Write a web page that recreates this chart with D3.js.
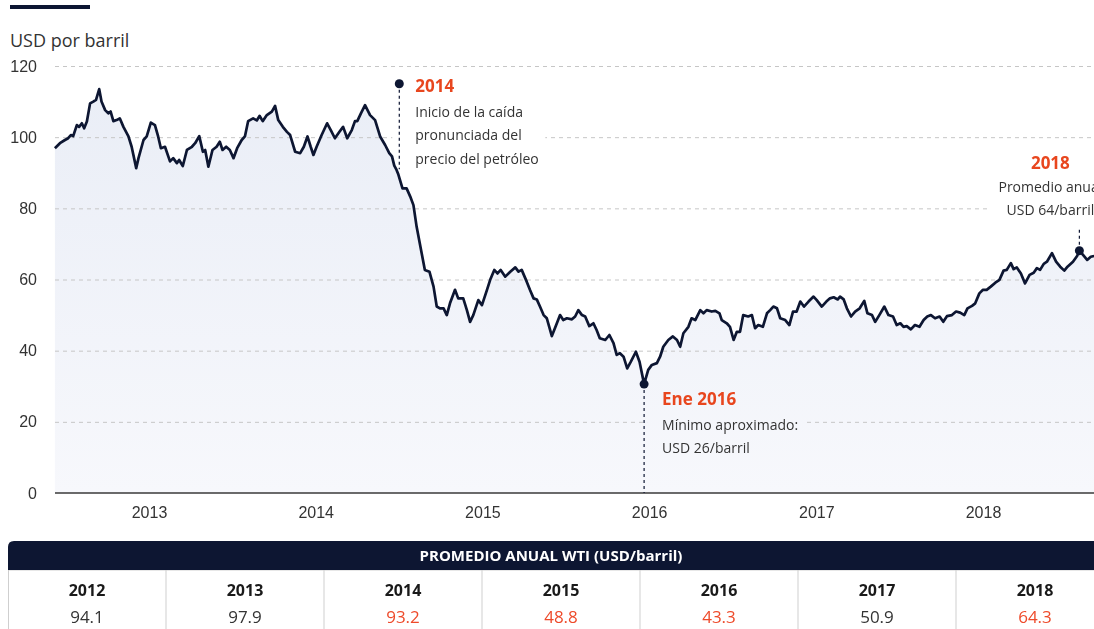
<!DOCTYPE html>
<html lang="es">
<head>
<meta charset="utf-8">
<script src="https://cdn.jsdelivr.net/npm/d3@7"></script>
<style>
  html, body { margin: 0; padding: 0; background: #fff; }
  body { width: 1094px; height: 629px; overflow: hidden; }
  svg { display: block; font-family: "Open Sans", "Noto Sans", sans-serif; }
</style>
</head>
<body>
<div id="chart"></div>
<script>
// WTI price, USD per barrel
const dates = [
  "2012-06-09","2012-06-20","2012-07-01","2012-07-08","2012-07-14","2012-07-19","2012-07-27","2012-08-01","2012-08-07","2012-08-12",
  "2012-08-18","2012-08-25","2012-09-01","2012-09-07","2012-09-14","2012-09-19","2012-09-27","2012-10-04","2012-10-09","2012-10-15",
  "2012-10-22","2012-10-29","2012-11-06","2012-11-17","2012-11-24","2012-12-04","2012-12-09","2012-12-20","2012-12-27","2013-01-05",
  "2013-01-14","2013-01-21","2013-01-27","2013-02-05","2013-02-16","2013-02-23","2013-03-03","2013-03-08","2013-03-16","2013-03-25",
  "2013-04-05","2013-04-12","2013-04-21","2013-04-29","2013-05-04","2013-05-11","2013-05-20","2013-05-29","2013-06-05","2013-06-11",
  "2013-06-19","2013-06-27","2013-07-05","2013-07-13","2013-07-23","2013-07-30","2013-08-06","2013-08-17","2013-08-25","2013-08-31",
  "2013-09-07","2013-09-16","2013-09-27","2013-10-04","2013-10-11","2013-10-21","2013-10-30","2013-11-06","2013-11-17","2013-11-28",
  "2013-12-06","2013-12-14","2013-12-21","2013-12-27","2014-01-03","2014-01-14","2014-01-26","2014-02-03","2014-02-12","2014-02-22",
  "2014-03-02","2014-03-11","2014-03-21","2014-03-28","2014-04-02","2014-04-10","2014-04-19","2014-04-30","2014-05-11","2014-05-22",
  "2014-06-02","2014-06-11","2014-06-17","2014-06-22","2014-06-27","2014-07-01","2014-07-10","2014-07-19","2014-07-27","2014-08-03",
  "2014-08-10","2014-08-21","2014-08-28","2014-09-07","2014-09-16","2014-09-23","2014-09-30","2014-10-08","2014-10-15","2014-10-22",
  "2014-11-02","2014-11-09","2014-11-20","2014-11-28","2014-12-05","2014-12-12","2014-12-23","2014-12-31","2015-01-11","2015-01-18",
  "2015-01-27","2015-02-03","2015-02-10","2015-02-20","2015-03-03","2015-03-14","2015-03-21","2015-03-28","2015-04-08","2015-04-15",
  "2015-04-23","2015-04-30","2015-05-07","2015-05-15","2015-05-22","2015-06-02","2015-06-13","2015-06-20","2015-06-27","2015-07-05",
  "2015-07-16","2015-07-23","2015-07-30","2015-08-07","2015-08-14","2015-08-23","2015-09-01","2015-09-08","2015-09-15","2015-09-27",
  "2015-10-06","2015-10-15","2015-10-22","2015-10-29","2015-11-06","2015-11-14","2015-11-22","2015-12-03","2015-12-11","2015-12-21",
  "2015-12-30","2016-01-07","2016-01-18","2016-01-25","2016-02-01","2016-02-12","2016-02-22","2016-03-02","2016-03-09","2016-03-16",
  "2016-03-27","2016-04-03","2016-04-11","2016-04-22","2016-04-29","2016-05-06","2016-05-17","2016-05-25","2016-06-03","2016-06-08",
  "2016-06-19","2016-06-26","2016-07-04","2016-07-11","2016-07-18","2016-07-25","2016-08-05","2016-08-13","2016-08-20","2016-08-27",
  "2016-09-06","2016-09-15","2016-09-22","2016-09-29","2016-10-07","2016-10-14","2016-10-25","2016-11-03","2016-11-11","2016-11-19",
  "2016-11-27","2016-12-05","2016-12-15","2016-12-26","2017-01-02","2017-01-13","2017-01-23","2017-01-31","2017-02-08","2017-02-17",
  "2017-02-22","2017-03-02","2017-03-09","2017-03-18","2017-03-27","2017-04-06","2017-04-16","2017-04-23","2017-05-03","2017-05-10",
  "2017-05-19","2017-05-30","2017-06-08","2017-06-18","2017-06-26","2017-07-04","2017-07-11","2017-07-18","2017-07-27","2017-08-05",
  "2017-08-15","2017-08-24","2017-09-01","2017-09-09","2017-09-18","2017-09-28","2017-10-06","2017-10-14","2017-10-25","2017-11-03",
  "2017-11-12","2017-11-21","2017-11-28","2017-12-08","2017-12-15","2017-12-24","2018-01-01","2018-01-09","2018-01-18","2018-01-28",
  "2018-02-06","2018-02-15","2018-02-22","2018-03-03","2018-03-09","2018-03-16","2018-03-25","2018-04-03","2018-04-13","2018-04-22",
  "2018-04-29","2018-05-06","2018-05-14","2018-05-21","2018-06-01","2018-06-10","2018-06-19","2018-06-28","2018-07-05","2018-07-17",
  "2018-07-26","2018-07-31","2018-08-08","2018-08-17","2018-08-25","2018-09-01","2018-09-10"
];
const prices = [
  96.9, 98.3, 99.2, 99.7, 100.6, 100.3, 103.4, 102.9, 103.9, 102.5,
  104.4, 109.5, 110.0, 110.5, 113.5, 110.0, 107.6, 106.7, 107.2, 104.5,
  104.8, 105.3, 102.9, 100.2, 97.3, 91.3, 94.1, 99.2, 100.2, 104.1,
  103.4, 100.2, 96.9, 97.3, 93.2, 94.1, 92.7, 93.6, 91.9, 96.4,
  97.3, 98.3, 100.3, 95.9, 96.4, 91.7, 96.4, 97.3, 98.7, 96.4,
  97.3, 96.4, 94.1, 96.9, 99.2, 100.2, 104.5, 105.3, 104.7, 106.0,
  104.5, 106.2, 107.2, 108.8, 104.8, 102.9, 101.5, 100.6, 95.9, 95.5,
  97.3, 100.2, 97.3, 95.0, 97.3, 100.6, 103.9, 102.0, 99.7, 101.5,
  102.9, 99.7, 102.0, 104.5, 104.5, 106.7, 109.0, 106.2, 104.8, 100.2,
  97.8, 95.5, 94.6, 92.0, 90.8, 89.5, 85.6, 85.6, 83.3, 80.9,
  74.8, 67.4, 62.7, 62.2, 58.0, 52.4, 51.9, 51.9, 50.0, 53.3,
  57.1, 54.7, 54.7, 51.4, 48.1, 50.0, 54.2, 52.8, 57.1, 59.9,
  62.7, 61.7, 62.7, 60.8, 62.2, 63.4, 62.2, 62.7, 59.4, 57.1,
  54.7, 54.4, 52.4, 50.0, 49.1, 44.1, 47.7, 50.0, 48.6, 49.1,
  48.8, 49.6, 51.4, 50.0, 49.6, 46.9, 47.7, 45.8, 43.5, 43.0,
  44.4, 42.1, 38.8, 39.3, 38.3, 35.0, 36.9, 39.7, 36.9, 30.6,
  34.6, 36.0, 36.5, 38.3, 41.1, 43.0, 44.0, 43.0, 41.1, 44.9,
  46.7, 49.1, 48.6, 51.4, 50.5, 51.4, 51.0, 51.2, 50.5, 48.6,
  47.7, 46.7, 43.0, 45.3, 45.3, 50.0, 49.6, 50.0, 46.3, 47.2,
  46.7, 50.5, 51.4, 52.4, 51.9, 49.1, 48.6, 47.2, 51.0, 51.0,
  53.8, 52.4, 53.8, 55.2, 54.2, 52.4, 53.8, 54.7, 55.0, 54.4,
  55.2, 54.4, 51.9, 49.6, 51.0, 51.9, 54.0, 50.5, 50.0, 48.1,
  50.0, 52.4, 50.0, 49.6, 47.2, 47.7, 46.7, 46.9, 46.0, 47.2,
  46.7, 48.6, 49.6, 50.0, 49.1, 49.6, 48.1, 49.7, 50.0, 51.0,
  50.7, 50.0, 51.9, 52.6, 53.3, 56.1, 57.1, 57.1, 58.0, 59.1,
  59.9, 62.5, 62.7, 64.6, 62.9, 63.4, 61.7, 58.9, 61.3, 61.9,
  63.2, 62.7, 64.4, 65.0, 67.4, 65.0, 63.6, 62.5, 63.6, 65.0,
  66.6, 68.1, 66.9, 65.5, 66.4, 66.6, 67.0
];

const yTicks = [0, 20, 40, 60, 80, 100, 120];
const xTickYears = [2013, 2014, 2015, 2016, 2017, 2018];

const tableYears = ["2012", "2013", "2014", "2015", "2016", "2017", "2018"];
const tableAvg = [94.1, 97.9, 93.2, 48.8, 43.3, 50.9, 64.3];
const redYears = ["2014", "2015", "2016", "2018"];

const notePeak = { date: "2014-07-03", value: 115, end: 91, title: "2014",
  lines: ["Inicio de la caída", "pronunciada del", "precio del petróleo"] };
const noteMin = { date: "2015-12-21", value: 30.6, title: "Ene 2016",
  lines: ["Mínimo aproximado:", "USD 26/barril"] };
const note2018 = { date: "2018-07-31", value: 68.1, title: "2018",
  lines: ["Promedio anual", "USD 64/barril"] };

const W = 1094, H = 629;
const NAVY = "#0d1632", RED = "#e8461e", TEXT = "#333";
const parse = d3.timeParse("%Y-%m-%d");
const data = dates.map((d, i) => ({ date: parse(d), value: prices[i] }));

const plotLeft = 55;
const x = d3.scaleTime()
  .domain([new Date(2013, 0, 1), new Date(2018, 0, 1)])
  .range([149, 983]);
const y = d3.scaleLinear().domain([0, 120]).range([493, 66]);

const svg = d3.select("#chart").append("svg")
  .attr("width", W)
  .attr("height", H);
const defs = svg.append("defs");

const grad = defs.append("linearGradient")
  .attr("id", "areaFill")
  .attr("gradientUnits", "userSpaceOnUse")
  .attr("x1", 0).attr("x2", 0)
  .attr("y1", y(120)).attr("y2", y(0));
grad.append("stop").attr("offset", 0).attr("stop-color", "#e9edf6");
grad.append("stop").attr("offset", 1).attr("stop-color", "#f7f8fc");

// anchor points of the notes
const pk = { x: x(parse(notePeak.date)), y: y(notePeak.value) };
const mn = { x: x(parse(noteMin.date)), y: y(noteMin.value) };
const n18 = { x: x(parse(note2018.date)), y: y(note2018.value) };

// gridlines are hidden behind the note texts
const mask = defs.append("mask")
  .attr("id", "gridMask")
  .attr("maskUnits", "userSpaceOnUse")
  .attr("x", 0).attr("y", 0).attr("width", W).attr("height", H);
mask.append("rect").attr("width", W).attr("height", H).attr("fill", "#fff");
[
  [pk.x - 7, pk.y - 12, 153, 100],
  [mn.x + 3, mn.y + 4, 158, 74],
  [n18.x - 91, n18.y - 100, 140, 72]
].forEach(b => mask.append("rect")
  .attr("x", b[0]).attr("y", b[1]).attr("width", b[2]).attr("height", b[3])
  .attr("fill", "#000"));

// top accent bar + unit label
svg.append("rect")
  .attr("x", 10).attr("y", 5).attr("width", 80).attr("height", 4)
  .attr("fill", NAVY);
svg.append("text")
  .attr("x", 10).attr("y", 47)
  .attr("font-size", 18)
  .attr("fill", TEXT)
  .text("USD por barril");

// area under the line
const area = d3.area()
  .x(d => x(d.date))
  .y0(y(0))
  .y1(d => y(d.value));
svg.append("path")
  .datum(data)
  .attr("d", area)
  .attr("fill", "url(#areaFill)");

// gridlines (mask on an untransformed parent so its boxes are in page coords)
const grid = svg.append("g")
  .attr("mask", "url(#gridMask)")
  .append("g")
  .attr("transform", `translate(${plotLeft},0)`)
  .call(d3.axisLeft(y).tickValues(yTicks.filter(v => v > 0)).tickSize(-(W - plotLeft)).tickFormat(""));
grid.select(".domain").remove();
grid.selectAll("line")
  .attr("stroke", "#c6c6c6")
  .attr("stroke-dasharray", "4,4");

// y labels
const yAxis = svg.append("g")
  .attr("transform", "translate(37,0)")
  .call(d3.axisLeft(y).tickValues(yTicks).tickSize(0).tickPadding(0));
yAxis.select(".domain").remove();
yAxis.selectAll("text")
  .attr("font-family", null)
  .attr("font-size", 16)
  .attr("fill", TEXT);

// x axis
svg.append("line")
  .attr("x1", plotLeft).attr("x2", W)
  .attr("y1", y(0)).attr("y2", y(0))
  .attr("stroke", "#3a3a3a")
  .attr("stroke-width", 1.5);
const xAxis = svg.append("g")
  .attr("transform", `translate(0,${y(0)})`)
  .call(d3.axisBottom(x)
    .tickValues(xTickYears.map(yr => new Date(yr, 0, 1)))
    .tickFormat(d3.timeFormat("%Y"))
    .tickSize(0)
    .tickPadding(14));
xAxis.select(".domain").remove();
xAxis.selectAll("text")
  .attr("font-family", null)
  .attr("font-size", 16)
  .attr("fill", TEXT);

// price line
const line = d3.line()
  .x(d => x(d.date))
  .y(d => y(d.value));
svg.append("path")
  .datum(data)
  .attr("d", line)
  .attr("fill", "none")
  .attr("stroke", NAVY)
  .attr("stroke-width", 2.7)
  .attr("stroke-linejoin", "round");

// notes
function leader(x0, y1, y2) {
  svg.append("line")
    .attr("x1", x0).attr("x2", x0)
    .attr("y1", y1).attr("y2", y2)
    .attr("stroke", NAVY)
    .attr("stroke-width", 1.2)
    .attr("stroke-dasharray", "3,3");
}
function dot(p) {
  svg.append("circle")
    .attr("cx", p.x).attr("cy", p.y).attr("r", 4.5)
    .attr("fill", NAVY);
}
function noteText(note, tx, ty, gap, anchor) {
  const g = svg.append("g").attr("text-anchor", anchor);
  g.append("text")
    .attr("x", tx).attr("y", ty)
    .attr("font-size", 17)
    .attr("font-weight", 700)
    .attr("fill", RED)
    .text(note.title);
  note.lines.forEach((l, i) => {
    g.append("text")
      .attr("x", tx).attr("y", ty + gap[0] + i * gap[1])
      .attr("font-size", 14)
      .attr("fill", TEXT)
      .text(l);
  });
}

leader(pk.x, pk.y, y(notePeak.end));
dot(pk);
noteText(notePeak, pk.x + 16, pk.y + 8, [25, 23.5], "start");

leader(mn.x, mn.y, y(0));
dot(mn);
noteText(noteMin, mn.x + 18, mn.y + 21, [25, 23], "start");

leader(n18.x, n18.y - 6, n18.y - 24);
dot(n18);
noteText(note2018, n18.x - 29, n18.y - 82, [23, 23], "middle");

// annual average table
const tableTop = 541, headH = 29, tableLeft = 8, colW = 158;
const col = d3.scaleBand()
  .domain(tableYears)
  .range([tableLeft, tableLeft + colW * tableYears.length]);
const tw = colW * tableYears.length;

svg.append("rect")
  .attr("x", tableLeft + 0.5).attr("y", tableTop + headH)
  .attr("width", tw).attr("height", H - tableTop - headH + 5)
  .attr("fill", "#fff")
  .attr("stroke", "#cfcfcf");
svg.append("path")
  .attr("d", `M${tableLeft},${tableTop + headH} V${tableTop + 6} Q${tableLeft},${tableTop} ${tableLeft + 6},${tableTop}
    H${tableLeft + tw - 6} Q${tableLeft + tw},${tableTop} ${tableLeft + tw},${tableTop + 6} V${tableTop + headH} Z`)
  .attr("fill", NAVY);
svg.append("text")
  .attr("x", (tableLeft + W) / 2).attr("y", tableTop + 20)
  .attr("text-anchor", "middle")
  .attr("font-size", 15)
  .attr("font-weight", 700)
  .attr("fill", "#fff")
  .text("PROMEDIO ANUAL WTI (USD/barril)");

svg.selectAll("line.sep")
  .data(tableYears.slice(1))
  .enter()
  .append("line")
  .attr("class", "sep")
  .attr("x1", d => col(d)).attr("x2", d => col(d))
  .attr("y1", tableTop + headH).attr("y2", H)
  .attr("stroke", "#cfcfcf");

svg.selectAll("text.year")
  .data(tableYears)
  .enter()
  .append("text")
  .attr("class", "year")
  .attr("x", d => col(d) + col.bandwidth() / 2)
  .attr("y", tableTop + 55)
  .attr("text-anchor", "middle")
  .attr("font-size", 16)
  .attr("font-weight", 700)
  .attr("fill", "#1a1a1a")
  .text(d => d);

svg.selectAll("text.avg")
  .data(tableAvg)
  .enter()
  .append("text")
  .attr("class", "avg")
  .attr("x", (d, i) => col(tableYears[i]) + col.bandwidth() / 2)
  .attr("y", tableTop + 82)
  .attr("text-anchor", "middle")
  .attr("font-size", 17)
  .attr("fill", (d, i) => redYears.includes(tableYears[i]) ? "#ee4a2a" : TEXT)
  .text(d => d.toFixed(1));
</script>
</body>
</html>
